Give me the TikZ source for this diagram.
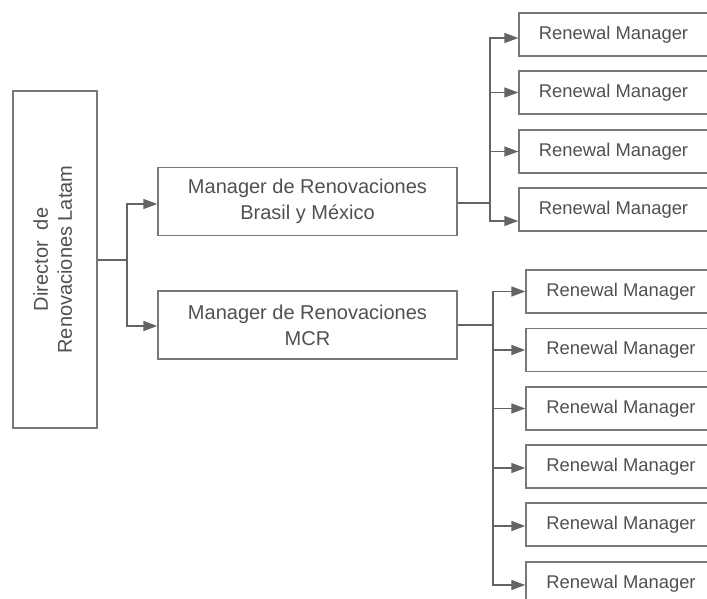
\documentclass[tikz,border=0pt]{standalone}
\usepackage{fontspec}
\setmainfont{Liberation Sans}
\usetikzlibrary{arrows.meta}
\definecolor{linegray}{HTML}{646464}
\definecolor{boxgray}{HTML}{787878}
\definecolor{textgray}{HTML}{505050}
\begin{document}
\begin{tikzpicture}[x=1pt,y=1pt,
  box/.style={draw=boxgray, line width=1.4pt, text=textgray, inner sep=0pt, align=center},
  mgr/.style={box, minimum width=299pt, minimum height=68pt, font=\fontsize{20}{26}\selectfont},
  rm/.style={box, minimum height=43pt, font=\fontsize{18.4}{22}\selectfont},
  link/.style={draw=linegray, line width=1.5pt},
  lead/.style={link, -{Triangle[length=14pt,width=10pt]}}]
\useasboundingbox (0,0) rectangle (707,-598);
\clip (0,0) rectangle (707,-598);

% director
\node[box, minimum width=84pt, minimum height=337pt] (dir) at (55,-259.5)
  {\rotatebox{90}{\fontsize{20}{24}\selectfont\begin{tabular}{@{}c@{}}Director~~de\\Renovaciones Latam\end{tabular}}};

% regional managers
\node[mgr] (brasil) at (307.5,-201.5) {Manager de Renovaciones\\Brasil y México};
\node[mgr] (mcr) at (307.5,-325) {Manager de Renovaciones\\MCR};

% renewal managers, Brasil y México
\foreach \i/\y in {1/34.5, 2/92.5, 3/151.5, 4/209.5}
  \node[rm, minimum width=189pt] (r\i) at (613.5,-\y) {Renewal Manager};

% renewal managers, MCR
\foreach \i/\y in {1/291.5, 2/350, 3/408.5, 4/466.5, 5/524.5, 6/583.5}
  \node[rm, minimum width=190pt] (s\i) at (621,-\y) {Renewal Manager};

% director to regional managers
\coordinate (jd) at (127,-260);
\draw[link] (dir.east |- jd) -- (jd);
\draw[lead] (jd) |- ([yshift=-2.5pt]brasil.west);
\draw[lead] (jd) |- ([yshift=-1pt]mcr.west);

% Brasil y México branch
\coordinate (jb) at (490,-203);
\draw[link] (brasil.east |- jb) -- (jb);
\draw[lead] (jb) |- ([yshift=-3.5pt]r1.west);
\draw[lead] (jb) |- (r2.west);
\draw[lead] (jb) |- (r3.west);
\draw[lead] (jb) |- ([yshift=-11.5pt]r4.west);

% MCR branch
\coordinate (jm) at (493,-325);
\draw[link] (mcr.east |- jm) -- (jm);
\draw[lead] (jm) |- (s1.west);
\draw[lead] (jm) |- (s2.west);
\draw[lead] (jm) |- (s3.west);
\draw[lead] (jm) |- ([yshift=-1.5pt]s4.west);
\draw[lead] (jm) |- ([yshift=-1.5pt]s5.west);
\draw[lead] (jm) |- ([yshift=-1.5pt]s6.west);
\end{tikzpicture}
\end{document}
